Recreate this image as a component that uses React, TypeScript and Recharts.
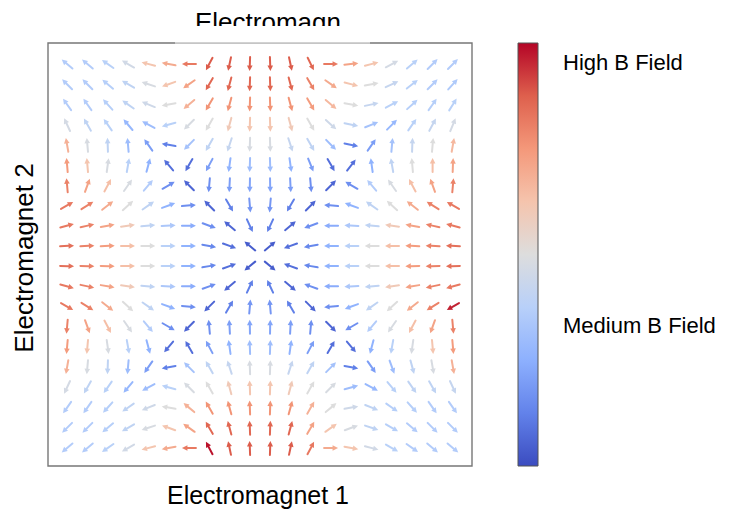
import { ScatterChart, Scatter, XAxis, YAxis, ReferenceArea, BarChart, Bar } from 'recharts';

// grid of field samples: 20 columns x 20 rows (row 0 = top)
const colIndex = [0, 1, 2, 3, 4, 5, 6, 7, 8, 9, 10, 11, 12, 13, 14, 15, 16, 17, 18, 19];
const rowIndex = [19, 18, 17, 16, 15, 14, 13, 12, 11, 10, 9, 8, 7, 6, 5, 4, 3, 2, 1, 0];

// arrow direction in degrees (0 = pointing right, 90 = pointing up), read per row
const fieldAngle: number[][] = [
  [140, 140, 145, 150, 165, 170, 180, 242, 258, 268, 272, 282, 296, 0, 6, 15, 28, 40, 45, 45],
  [135, 135, 140, 150, 162, 200, 215, 240, 255, 268, 272, 285, 300, 325, 345, 10, 25, 38, 45, 48],
  [125, 125, 132, 145, 158, 190, 220, 240, 255, 268, 272, 285, 300, 320, 350, 12, 28, 42, 55, 58],
  [115, 120, 125, 130, 152, 195, 225, 240, 255, 268, 272, 285, 300, 318, 348, 22, 45, 55, 62, 68],
  [100, 95, 92, 95, 125, 170, 225, 240, 252, 268, 272, 288, 300, 315, 348, 55, 85, 88, 85, 80],
  [95, 95, 82, 80, 75, 130, 240, 242, 262, 268, 272, 278, 292, 300, 52, 98, 100, 95, 90, 88],
  [95, 70, 62, 55, 50, 30, 135, 265, 267, 269, 271, 273, 275, 45, 150, 130, 125, 118, 110, 85],
  [30, 32, 38, 42, 35, 20, 5, 135, 300, 275, 265, 240, 45, 175, 160, 145, 138, 142, 148, 150],
  [15, 12, 10, 8, 5, 3, 0, 340, 140, 295, 245, 40, 200, 180, 177, 175, 172, 170, 168, 165],
  [2, 2, 2, 0, 0, 0, 0, 350, 340, 140, 40, 200, 190, 180, 180, 180, 180, 178, 178, 178],
  [358, 358, 358, 0, 0, 0, 0, 10, 20, 220, 320, 160, 170, 180, 180, 180, 180, 182, 182, 182],
  [345, 348, 350, 352, 355, 357, 0, 20, 220, 65, 115, 320, 160, 180, 183, 185, 188, 190, 192, 195],
  [330, 328, 322, 318, 325, 340, 355, 225, 60, 85, 95, 120, 315, 185, 200, 215, 222, 218, 212, 210],
  [265, 290, 298, 305, 310, 330, 225, 95, 93, 91, 89, 87, 85, 315, 210, 230, 235, 242, 250, 275],
  [265, 265, 278, 280, 285, 230, 120, 118, 98, 92, 88, 82, 62, 60, 310, 255, 260, 262, 275, 275],
  [260, 265, 268, 265, 235, 190, 135, 120, 108, 92, 88, 72, 60, 45, 350, 305, 290, 285, 280, 280],
  [245, 240, 235, 230, 208, 165, 135, 120, 105, 92, 88, 75, 60, 45, 15, 332, 310, 305, 300, 295],
  [235, 235, 228, 215, 202, 170, 140, 120, 105, 92, 88, 75, 60, 40, 10, 338, 325, 312, 305, 305],
  [225, 225, 220, 210, 198, 160, 145, 120, 105, 92, 88, 75, 60, 35, 20, 342, 330, 320, 315, 315],
  [220, 220, 215, 210, 195, 190, 180, 118, 102, 92, 88, 78, 62, 0, 350, 345, 330, 325, 320, 320],
];

// field strength on the colour scale (0 = bottom of colorbar, 100 = top)
const fieldStrength: number[][] = [
  [36, 36, 38, 46, 62, 70, 82, 88, 88, 88, 88, 88, 86, 82, 72, 62, 47, 38, 36, 36],
  [36, 36, 37, 40, 48, 62, 72, 86, 86, 86, 86, 86, 80, 70, 62, 50, 42, 38, 36, 35],
  [36, 36, 37, 40, 45, 50, 68, 76, 76, 76, 76, 76, 74, 66, 50, 42, 38, 37, 37, 38],
  [47, 40, 38, 28, 30, 38, 48, 50, 60, 62, 62, 60, 50, 45, 40, 32, 28, 38, 42, 47],
  [68, 48, 40, 30, 20, 12, 32, 40, 42, 48, 48, 42, 40, 30, 12, 20, 32, 42, 50, 66],
  [74, 62, 48, 38, 26, 8, 8, 20, 26, 30, 30, 26, 20, 8, 8, 26, 40, 50, 64, 72],
  [80, 72, 64, 48, 36, 16, 6, 16, 20, 22, 22, 20, 16, 6, 16, 36, 48, 64, 72, 80],
  [82, 80, 70, 50, 40, 26, 16, 6, 12, 18, 18, 12, 6, 16, 26, 40, 50, 70, 80, 82],
  [82, 80, 72, 60, 40, 34, 24, 16, 6, 12, 12, 6, 16, 24, 34, 40, 60, 72, 80, 82],
  [84, 80, 74, 64, 50, 38, 26, 14, 8, 4, 4, 8, 14, 26, 38, 50, 64, 74, 80, 84],
  [84, 80, 74, 64, 50, 38, 26, 14, 8, 4, 4, 8, 14, 26, 38, 50, 64, 74, 80, 84],
  [82, 80, 72, 60, 40, 34, 24, 16, 6, 12, 12, 6, 16, 24, 34, 40, 60, 72, 80, 82],
  [82, 80, 70, 50, 40, 26, 16, 6, 12, 18, 18, 12, 6, 16, 26, 40, 50, 70, 80, 96],
  [80, 72, 64, 48, 36, 16, 6, 16, 20, 22, 22, 20, 16, 6, 16, 36, 48, 64, 72, 80],
  [74, 62, 48, 38, 26, 8, 8, 20, 26, 30, 30, 26, 20, 8, 8, 26, 38, 48, 62, 74],
  [68, 48, 40, 30, 20, 12, 32, 40, 42, 48, 48, 42, 40, 32, 12, 20, 30, 40, 48, 68],
  [47, 40, 38, 28, 30, 38, 48, 50, 60, 62, 62, 60, 50, 48, 30, 28, 38, 40, 40, 42],
  [36, 36, 37, 40, 45, 50, 68, 76, 76, 76, 76, 76, 68, 50, 45, 40, 37, 37, 36, 36],
  [36, 36, 37, 40, 48, 62, 72, 86, 86, 86, 86, 86, 72, 62, 48, 40, 37, 36, 36, 36],
  [36, 36, 38, 46, 62, 70, 82, 98, 88, 88, 88, 88, 82, 70, 62, 46, 38, 36, 36, 36],
];

const xTicks = [0.03, 2.41, 4.79, 7.17, 9.55, 11.93, 14.31, 16.69, 19.07];
const yTicks = [0, 2.38, 4.77, 7.16, 9.55, 11.94, 14.33, 16.72, 19.11];
const colorbarTicks = [0, 1, 2, 3, 4, 5, 6, 7, 8];
const colorbarData = [{ name: 'B', value: 8 }];

const X_DOMAIN: [number, number] = [-0.94, 19.94];
const Y_DOMAIN: [number, number] = [-0.89, 20.04];

// matplotlib coolwarm, sampled
const coolwarmStops: [number, number[]][] = [
  [0, [59, 76, 192]],
  [0.125, [98, 130, 234]],
  [0.25, [141, 176, 254]],
  [0.375, [184, 208, 249]],
  [0.5, [221, 221, 221]],
  [0.625, [245, 196, 173]],
  [0.75, [244, 152, 122]],
  [0.875, [222, 96, 77]],
  [1, [180, 4, 38]],
];

const coolwarm = (t: number) => {
  const v = Math.max(0, Math.min(1, t));
  for (let k = 1; k < coolwarmStops.length; k++) {
    const [t1, c1] = coolwarmStops[k];
    const [t0, c0] = coolwarmStops[k - 1];
    if (v <= t1) {
      const f = (v - t0) / (t1 - t0);
      const c = c0.map((a, n) => Math.round(a + (c1[n] - a) * f));
      return `rgb(${c[0]},${c[1]},${c[2]})`;
    }
  }
  return 'rgb(180,4,38)';
};

const cells = rowIndex.flatMap((y, r) =>
  colIndex.map((x, c) => ({ x, y, angle: fieldAngle[r][c], strength: fieldStrength[r][c] }))
);

const ARROW_LEN = 14;
const HEAD_LEN = 5.5;
const HEAD_HALF = 2.8;

const ArrowGlyph = (props: any) => {
  const { cx, cy, payload } = props;
  if (cx == null || cy == null || !payload) return <g />;
  const rad = (payload.angle * Math.PI) / 180;
  const ux = Math.cos(rad);
  const uy = -Math.sin(rad);
  const half = ARROW_LEN / 2;
  const tx = cx - ux * half;
  const ty = cy - uy * half;
  const hx = cx + ux * half;
  const hy = cy + uy * half;
  const bx = hx - ux * HEAD_LEN;
  const by = hy - uy * HEAD_LEN;
  const px = -uy;
  const py = ux;
  const color = coolwarm(payload.strength / 100);
  return (
    <g>
      <line x1={tx} y1={ty} x2={bx} y2={by} stroke={color} strokeWidth={2} strokeLinecap="round" />
      <polygon
        points={`${hx},${hy} ${bx + px * HEAD_HALF},${by + py * HEAD_HALF} ${bx - px * HEAD_HALF},${by - py * HEAD_HALF}`}
        fill={color}
      />
    </g>
  );
};

const font = '"Liberation Sans", Arial, sans-serif';

export default function App() {
  return (
    <div style={{ position: 'absolute', left: 0, top: 0, width: 731, height: 511, background: '#fff', overflow: 'hidden' }}>
      <div style={{ position: 'absolute', left: 0, top: 0 }}>
        <ScatterChart width={731} height={511} margin={{ top: 43, right: 259, bottom: 45, left: 48 }}>
          <XAxis
            type="number"
            dataKey="x"
            domain={X_DOMAIN}
            ticks={xTicks}
            allowDataOverflow
            mirror
            tick={false}
            tickSize={4}
            axisLine={false}
            tickLine={{ stroke: '#777' }}
          />
          <YAxis
            type="number"
            dataKey="y"
            domain={Y_DOMAIN}
            ticks={yTicks}
            allowDataOverflow
            mirror
            tick={false}
            tickSize={4}
            axisLine={false}
            tickLine={{ stroke: '#777' }}
          />
          <ReferenceArea
            x1={X_DOMAIN[0]}
            x2={X_DOMAIN[1]}
            y1={Y_DOMAIN[0]}
            y2={Y_DOMAIN[1]}
            ifOverflow="visible"
            fill="none"
            fillOpacity={0}
            stroke="#777"
            strokeWidth={1.4}
          />
          <Scatter data={cells} shape={ArrowGlyph} isAnimationActive={false} />
        </ScatterChart>
      </div>

      <div style={{ position: 'absolute', left: 510, top: 0 }}>
        <BarChart width={60} height={511} data={colorbarData} margin={{ top: 43, bottom: 45, left: 8, right: 28 }} barCategoryGap={0}>
          <defs>
            <linearGradient id="cbGrad" x1="0" y1="1" x2="0" y2="0">
              {coolwarmStops.map(([t, c]) => (
                <stop key={t} offset={t} stopColor={`rgb(${c[0]},${c[1]},${c[2]})`} />
              ))}
            </linearGradient>
          </defs>
          <XAxis dataKey="name" hide />
          <YAxis
            orientation="right"
            type="number"
            domain={[0, 8]}
            ticks={colorbarTicks}
            tick={false}
            tickSize={4}
            width={4}
            axisLine={false}
            tickLine={{ stroke: '#555' }}
          />
          <Bar dataKey="value" fill="url(#cbGrad)" stroke="#555" strokeWidth={1} isAnimationActive={false} />
        </BarChart>
      </div>

      <svg width={731} height={511} style={{ position: 'absolute', left: 0, top: 0, pointerEvents: 'none' }}>
        <text x={195} y={31} fontSize={26} fontFamily={font} fill="#000">Electromagn</text>
        <rect x={175} y={26} width={195} height={16.5} fill="#fff" />
        <line x1={175} y1={43} x2={370} y2={43} stroke="#d4d4d4" strokeWidth={1.5} />
        <text x={258} y={504} fontSize={25} fontFamily={font} textAnchor="middle" fill="#000">Electromagnet 1</text>
        <text transform="translate(33,258) rotate(-90)" fontSize={26} fontFamily={font} textAnchor="middle" fill="#000">
          Electromagnet 2
        </text>
        <text x={563} y={70} fontSize={22} fontFamily={font} fill="#000">High B Field</text>
        <text x={563} y={333} fontSize={22} fontFamily={font} fill="#000">Medium B Field</text>
      </svg>
    </div>
  );
}
